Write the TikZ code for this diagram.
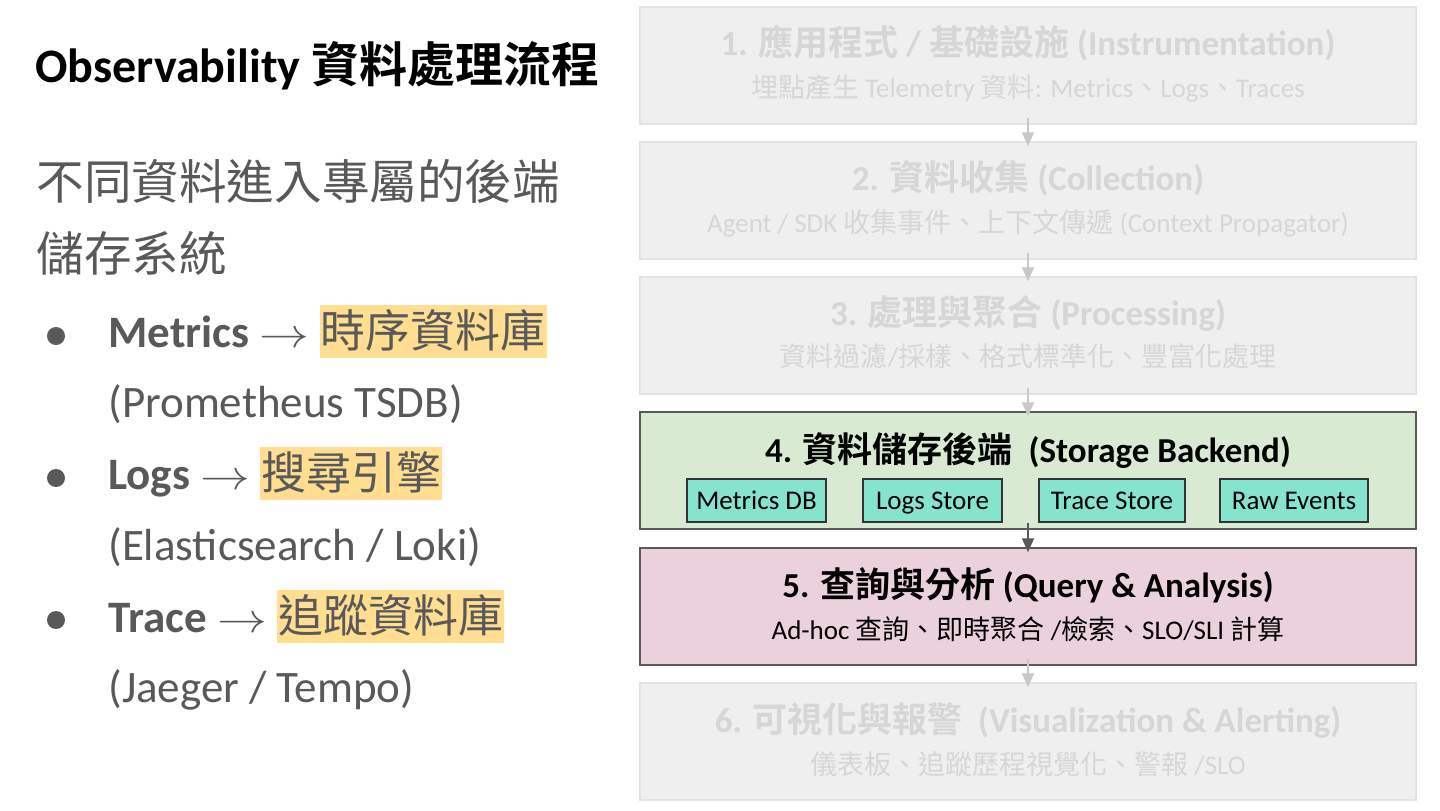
\documentclass[tikz,border=0pt]{standalone}
\usepackage{fontspec}
\setmainfont{Carlito}
\newfontfamily\cjk{Noto Sans CJK TC}[BoldFont={Noto Sans CJK TC Bold}]
\newcommand\zh[1]{{\cjk #1}}
\usetikzlibrary{arrows.meta}
\definecolor{dg}{HTML}{595959}
\definecolor{fadefill}{HTML}{EFEFEF}
\definecolor{fadeline}{HTML}{E2E2E2}
\definecolor{fadetext}{HTML}{D6D6D6}
\definecolor{fadearrow}{HTML}{C8C8C8}
\definecolor{greenfill}{HTML}{D9EAD3}
\definecolor{pinkfill}{HTML}{EAD1DC}
\definecolor{tealfill}{HTML}{86E3CE}
\definecolor{hlcol}{HTML}{FFDE91}
\newcommand\hl[1]{{\setlength{\fboxsep}{0pt}\colorbox{hlcol}{\hspace{0.5pt}\rule[-5.5pt]{0pt}{26.5pt}\zh{#1}\hspace{0.5pt}}}}
\newcommand\arrowsym{\scalebox{1.2}[1]{$\rightarrow$}}
\begin{document}
\begin{tikzpicture}[x=0.5pt,y=-0.5pt,
  stage/.style={rectangle, minimum width=388pt, minimum height=58.5pt, inner sep=0pt, line width=0.75pt},
  faded/.style={stage, fill=fadefill, draw=fadeline},
  ttl/.style={anchor=base, font=\bfseries\fontsize{17.5}{21}\selectfont},
  sub/.style={anchor=base, font=\fontsize{13.5}{16}\selectfont},
  storebox/.style={rectangle, draw=black!80, fill=tealfill, minimum height=21.5pt, inner sep=0pt, text height=12pt, text depth=3pt, line width=0.75pt, font=\fontsize{13.5}{16}\selectfont},
  arr/.style={-{Triangle[width=6pt,length=7pt]}, line width=0.75pt, shorten <=-3.5pt, shorten >=-2.5pt},
  bigtxt/.style={anchor=base west, inner sep=0pt, text=dg, font=\fontsize{22.5}{27}\selectfont},
  bullet/.style={circle, fill=dg, inner sep=0pt, minimum size=9pt}
]
\useasboundingbox[fill=white] (0,0) rectangle (1440,810);

% left column
\node[anchor=base west, inner sep=0pt, font=\bfseries\fontsize{24}{28}\selectfont] (title) at (35,82) {Observability \zh{資料處理流程}};
\node[bigtxt, font=\fontsize{23.8}{28}\selectfont] (intro1) at (36,199) {\zh{不同資料進入專屬的後端}};
\node[bigtxt, font=\fontsize{23.8}{28}\selectfont] (intro2) at (36,271) {\zh{儲存系統}};

\node[bullet] (dot1) at (56,336) {};
\node[bigtxt] (m1) at (108,347) {\textbf{Metrics} \arrowsym{} \hl{時序資料庫}};
\node[bigtxt] (m2) at (108,417) {(Prometheus TSDB)};
\node[bullet] (dot2) at (56,478) {};
\node[bigtxt] (l1) at (108,489) {\textbf{Logs} \arrowsym{} \hl{搜尋引擎}};
\node[bigtxt] (l2) at (108,560) {(Elasticsearch / Loki)};
\node[bullet] (dot3) at (56,620) {};
\node[bigtxt] (r1) at (108,632) {\textbf{Trace} \arrowsym{} \hl{追蹤資料庫}};
\node[bigtxt] (r2) at (108,702) {(Jaeger / Tempo)};

% stage boxes
\node[faded] (b1) at (1028,65.5) {};
\node[faded] (b2) at (1028,200.5) {};
\node[faded] (b3) at (1028,335.5) {};
\node[stage, fill=greenfill, draw=dg] (b4) at (1028,470.5) {};
\node[stage, fill=pinkfill, draw=dg] (b5) at (1028,606.5) {};
\node[faded] (b6) at (1028,741.5) {};

% texts
\node[ttl, text=fadetext] (t1) at (1028,55) {1. \zh{應用程式} / \zh{基礎設施} (Instrumentation)};
\node[sub, text=fadetext] (s1) at (1028,97) {\zh{埋點產生} Telemetry \zh{資料}: Metrics\zh{、}Logs\zh{、}Traces};
\node[ttl, text=fadetext] (t2) at (1028,190) {2. \zh{資料收集} (Collection)};
\node[sub, text=fadetext] (s2) at (1028,232) {Agent / SDK \zh{收集事件、上下文傳遞} (Context Propagator)};
\node[ttl, text=fadetext] (t3) at (1028,325) {3. \zh{處理與聚合} (Processing)};
\node[sub, text=fadetext] (s3) at (1028,366) {\zh{資料過濾}/\zh{採樣、格式標準化、豐富化處理}};
\node[ttl] (t4) at (1028,462) {4. \zh{資料儲存後端}\ \ (Storage Backend)};
\node[storebox, minimum width=69.5pt] (sb1) at (756.5,500.5) {Metrics DB};
\node[storebox, minimum width=69.5pt] (sb2) at (932.5,500.5) {Logs Store};
\node[storebox, minimum width=73pt] (sb3) at (1112,500.5) {Trace Store};
\node[storebox, minimum width=74pt] (sb4) at (1294,500.5) {Raw Events};
\node[ttl] (t5) at (1028,597) {5. \zh{查詢與分析} (Query \& Analysis)};
\node[sub] (s5) at (1028,639) {Ad-hoc \zh{查詢、即時聚合} /\zh{檢索、}SLO/SLI \zh{計算}};
\node[ttl, text=fadetext] (t6) at (1028,732) {6. \zh{可視化與報警}\ \ (Visualization \& Alerting)};
\node[sub, text=fadetext] (s6) at (1028,774) {\zh{儀表板、追蹤歷程視覺化、警報} /SLO};

% arrows
\draw[arr, fadearrow] (b1.south) -- (b2.north);
\draw[arr, fadearrow] (b2.south) -- (b3.north);
\draw[arr, fadearrow] (b3.south) -- (b4.north);
\draw[arr, dg] (b4.south) -- (b5.north);
\draw[arr, fadearrow] (b5.south) -- (b6.north);
\end{tikzpicture}
\end{document}
